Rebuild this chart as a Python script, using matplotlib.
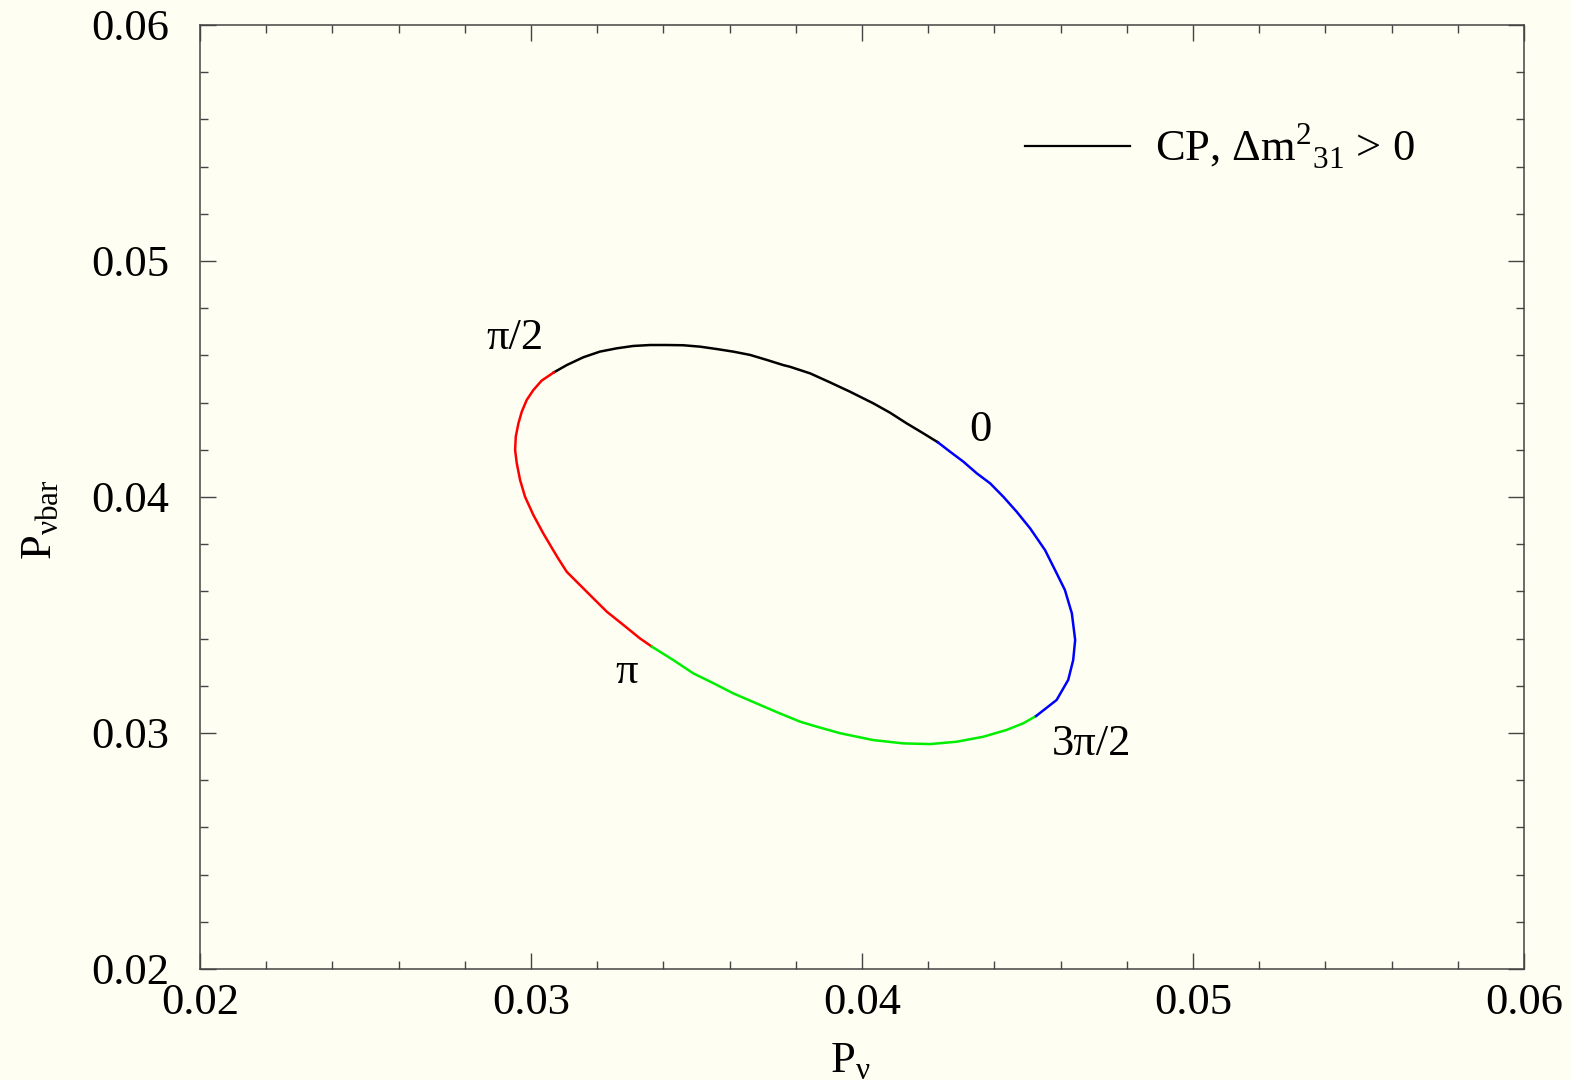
import matplotlib

matplotlib.use("Agg")
import matplotlib.pyplot as plt
from matplotlib.lines import Line2D
from matplotlib.ticker import MultipleLocator

plt.rcParams.update(
    {
        "font.family": ["Liberation Serif", "DejaVu Serif"],
        "mathtext.fontset": "custom",
        "mathtext.rm": "Liberation Serif",
    }
)

BG = "#FFFEF2"
SPINE = "#444444"
FS = 32

# P_nu vs P_nubar, one list per quarter of delta_CP
# delta 0 -> pi/2 (black)
seg1_x = [0.04229, 0.04185, 0.04135, 0.04085, 0.04034, 0.03964, 0.03903, 0.03843,
          0.03782, 0.03762, 0.03712, 0.03662, 0.03611, 0.03561, 0.03511, 0.03460,
          0.03410, 0.03360, 0.03309, 0.03259, 0.03208, 0.03158, 0.03108, 0.03069]
seg1_y = [0.04232, 0.04270, 0.04312, 0.04357, 0.04397, 0.04446, 0.04486, 0.04524,
          0.04552, 0.04559, 0.04581, 0.04602, 0.04616, 0.04627, 0.04637, 0.04643,
          0.04644, 0.04644, 0.04640, 0.04630, 0.04616, 0.04592, 0.04559, 0.04528]
# delta pi/2 -> pi (red)
seg2_x = [0.03069, 0.03032, 0.03007, 0.02987, 0.02972, 0.02962, 0.02954, 0.02952,
          0.02957, 0.02967, 0.02982, 0.03007, 0.03037, 0.03067, 0.03082, 0.03108,
          0.03148, 0.03188, 0.03229, 0.03279, 0.03329, 0.03365]
seg2_y = [0.04528, 0.04493, 0.04453, 0.04411, 0.04361, 0.04312, 0.04256, 0.04199,
          0.04143, 0.04072, 0.04001, 0.03924, 0.03846, 0.03775, 0.03740, 0.03683,
          0.03627, 0.03571, 0.03514, 0.03458, 0.03401, 0.03366]
# delta pi -> 3pi/2 (green)
seg3_x = [0.03365, 0.03430, 0.03490, 0.03551, 0.03611, 0.03692, 0.03752, 0.03813,
          0.03863, 0.03934, 0.04034, 0.04125, 0.04205, 0.04286, 0.04366, 0.04437,
          0.04487, 0.04526]
seg3_y = [0.03366, 0.03309, 0.03253, 0.03211, 0.03168, 0.03119, 0.03083, 0.03048,
          0.03027, 0.02999, 0.02970, 0.02956, 0.02953, 0.02963, 0.02984, 0.03013,
          0.03041, 0.03072]
# delta 3pi/2 -> 2pi (blue)
seg4_x = [0.04526, 0.04588, 0.04623, 0.04638, 0.04644, 0.04634, 0.04613, 0.04588,
          0.04568, 0.04553, 0.04508, 0.04467, 0.04427, 0.04387, 0.04347, 0.04306,
          0.04266, 0.04229]
seg4_y = [0.03072, 0.03140, 0.03225, 0.03309, 0.03394, 0.03507, 0.03606, 0.03677,
          0.03733, 0.03775, 0.03867, 0.03938, 0.04001, 0.04058, 0.04100, 0.04150,
          0.04192, 0.04232]

SEG_COLORS = ["black", "red", "#00EE00", "blue"]

phase_labels = ["0", "π/2", "π", "3π/2"]
phase_x = [0.04357, 0.02952, 0.03290, 0.04695]
phase_y = [0.04284, 0.04674, 0.03258, 0.02953]

x_ticks = [0.02, 0.03, 0.04, 0.05, 0.06]
y_ticks = [0.02, 0.03, 0.04, 0.05, 0.06]


def main():
    fig = plt.figure(figsize=(15.71, 10.80), dpi=100, facecolor=BG)
    ax = fig.add_axes([200 / 1571, 1 - 969 / 1080, 1324 / 1571, 944 / 1080])
    ax.set_facecolor(BG)

    segs = [(seg1_x, seg1_y), (seg2_x, seg2_y), (seg3_x, seg3_y), (seg4_x, seg4_y)]
    for (xs, ys), c in zip(segs, SEG_COLORS):
        ax.plot(xs, ys, color=c, lw=1.8, solid_joinstyle="round")

    for lab, x, y in zip(phase_labels, phase_x, phase_y):
        ax.text(x, y, lab, ha="center", va="center", fontsize=FS)

    ax.set_xlim(0.02, 0.06)
    ax.set_ylim(0.02, 0.06)
    ax.set_xticks(x_ticks)
    ax.set_yticks(y_ticks)
    ax.set_xticklabels([f"{v:.2f}" for v in x_ticks])
    ax.set_yticklabels([f"{v:.2f}" for v in y_ticks])
    ax.xaxis.set_minor_locator(MultipleLocator(0.002))
    ax.yaxis.set_minor_locator(MultipleLocator(0.002))
    ax.tick_params(which="both", direction="in", top=True, right=True,
                   color=SPINE, width=1.0)
    ax.tick_params(which="major", length=11.5, labelsize=FS)
    ax.tick_params(which="minor", length=5.8)
    ax.tick_params(axis="x", which="major", pad=10)
    ax.tick_params(axis="y", which="major", pad=22)
    for sp in ax.spines.values():
        sp.set_color(SPINE)
        sp.set_linewidth(1.1)

    ax.set_xlabel("P$_\\mathregular{ν}$", fontsize=FS)
    ax.xaxis.set_label_coords(0.491, -0.077)
    ax.set_ylabel("P$_\\mathregular{νbar}$", fontsize=FS)
    ax.yaxis.set_label_coords(-0.105, 0.476)

    handle = Line2D([], [], color="black", lw=1.6)
    ax.legend(
        [handle],
        ["CP, Δm$^\\mathregular{2}$$_\\mathregular{31}$ > 0"],
        loc="upper left",
        bbox_to_anchor=(0.623, 0.898),
        frameon=False,
        fontsize=FS,
        handlelength=2.36,
        handletextpad=0.56,
        borderpad=0,
        borderaxespad=0,
    )

    fig.savefig("out.png", dpi=100, facecolor=BG)


if __name__ == "__main__":
    main()
